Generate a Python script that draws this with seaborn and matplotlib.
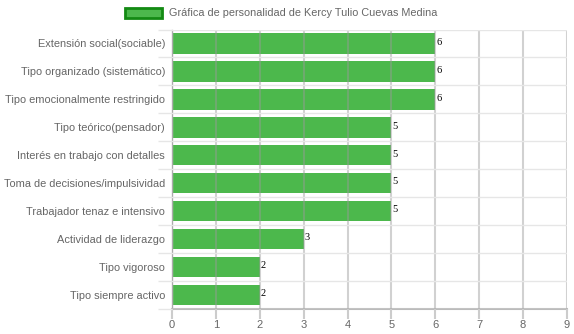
import matplotlib
matplotlib.use("Agg")
import matplotlib.pyplot as plt
import seaborn as sns
import pandas as pd
import numpy as np
from matplotlib.patches import Patch

categories = [
    "Extensión social(sociable)",
    "Tipo organizado (sistemático)",
    "Tipo emocionalmente restringido",
    "Tipo teórico(pensador)",
    "Interés en trabajo con detalles",
    "Toma de decisiones/impulsividad",
    "Trabajador tenaz e intensivo",
    "Actividad de liderazgo",
    "Tipo vigoroso",
    "Tipo siempre activo",
]
values = [6, 6, 6, 5, 5, 5, 5, 3, 2, 2]
series_name = "Gráfica de personalidad de Kercy Tulio Cuevas Medina"

df = pd.DataFrame({"cat": categories, "val": values})

sns.set_theme(style="white")
plt.rcParams["font.family"] = ["Liberation Sans", "DejaVu Sans"]

fig = plt.figure(figsize=(5.74, 3.34), dpi=100)
ax = fig.add_axes([172/574, 1-309.3/334, (567-172)/574, (309.3-29.5)/334])

bar_color = "#4cb84c"
sns.barplot(data=df, x="val", y="cat", orient="h", color=bar_color,
            saturation=1, width=0.72, ax=ax, linewidth=0)

ax.set_xlim(0, 9)
ax.set_ylim(len(categories)-0.5, -0.5)
ax.set_xlabel("")
ax.set_ylabel("")
ax.set_xticks(range(0, 10))
ax.set_yticks(range(len(categories)))
ax.set_yticks(np.arange(-0.5, len(categories), 1), minor=True)

for s in ["top", "right"]:
    ax.spines[s].set_visible(False)
ax.spines["left"].set_color("#bbbbbb")
ax.spines["bottom"].set_color("#bbbbbb")
ax.spines["left"].set_linewidth(1)
ax.spines["bottom"].set_linewidth(1.5)

ax.tick_params(axis="x", which="major", length=7, width=1.5, color="#cccccc",
               labelsize=8, labelcolor="#666666", pad=1, direction="out", bottom=True)
ax.tick_params(axis="y", which="major", length=0, labelsize=7.9, labelcolor="#666666", pad=5)
ax.tick_params(axis="y", which="minor", length=10, width=1, color="#e6e6e6", left=True)

ax.set_axisbelow(False)
ax.grid(axis="x", which="major", color="#999999", alpha=0.45, linewidth=1.5)
ax.grid(axis="y", which="minor", color="#e6e6e6", linewidth=1)
ax.grid(axis="y", which="major", visible=False)

for i, v in enumerate(values):
    ax.text(v + 0.02, i - 0.05, str(v), ha="left", va="center", fontsize=7.5,
            family="Liberation Serif", color="black")

handle = Patch(facecolor=bar_color, edgecolor="#138a13", linewidth=2)
fig.legend(handles=[handle], labels=[series_name], loc="center",
           bbox_to_anchor=(281/574, 1-13/334), frameon=False, fontsize=7.8,
           handlelength=3.4, handleheight=1.1, handletextpad=0.65,
           labelcolor="#666666")

fig.savefig("out.png", dpi=100)
